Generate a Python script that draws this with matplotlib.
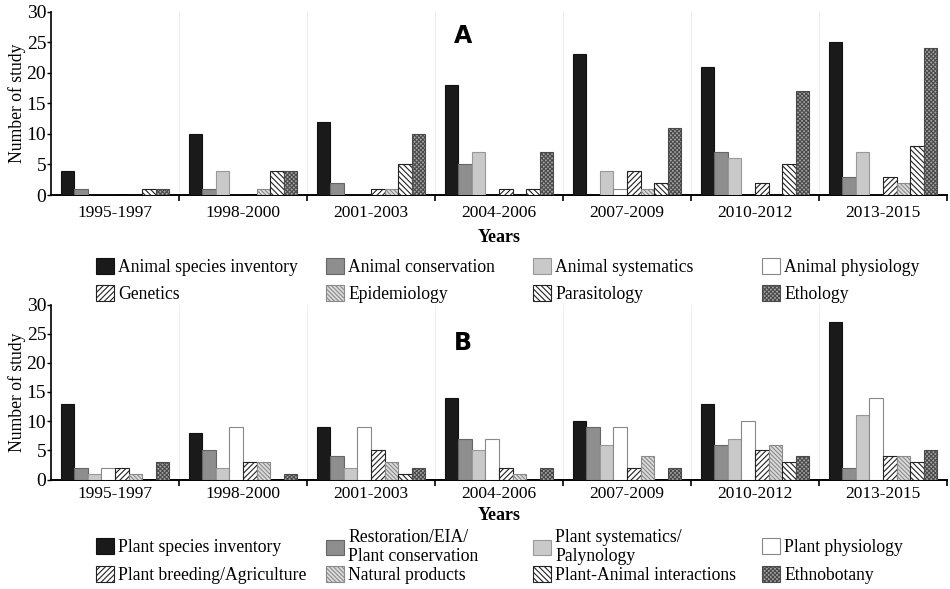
import numpy as np
import matplotlib
matplotlib.use("Agg")
import matplotlib.pyplot as plt

plt.rcParams['font.family'] = ['Liberation Serif', 'DejaVu Serif']
plt.rcParams['hatch.linewidth'] = 0.8

years = ["1995-1997", "1998-2000", "2001-2003", "2004-2006",
         "2007-2009", "2010-2012", "2013-2015"]

#====================== panel A (animal studies)
animal_labels = ["Animal species inventory", "Animal conservation", "Animal systematics",
                 "Animal physiology", "Genetics", "Epidemiology", "Parasitology", "Ethology"]
animal_species_inventory = [4, 10, 12, 18, 23, 21, 25]
animal_conservation = [1, 1, 2, 5, 0, 7, 3]
animal_systematics = [0, 4, 0, 7, 4, 6, 7]
animal_physiology = [0, 0, 0, 0, 1, 0, 0]
genetics = [0, 0, 1, 1, 4, 2, 3]
epidemiology = [0, 1, 1, 0, 1, 0, 2]
parasitology = [1, 4, 5, 1, 2, 5, 8]
ethology = [1, 4, 10, 7, 11, 17, 24]

#====================== panel B (plant studies)
plant_labels = ["Plant species inventory", "Restoration/EIA/\nPlant conservation",
                "Plant systematics/\nPalynology", "Plant physiology",
                "Plant breeding/Agriculture", "Natural products",
                "Plant-Animal interactions", "Ethnobotany"]
plant_species_inventory = [13, 8, 9, 14, 10, 13, 27]
plant_conservation = [2, 5, 4, 7, 9, 6, 2]
plant_systematics = [1, 2, 2, 5, 6, 7, 11]
plant_physiology = [2, 9, 9, 7, 9, 10, 14]
plant_breeding = [2, 3, 5, 2, 2, 5, 4]
natural_products = [1, 3, 3, 1, 4, 6, 4]
plant_animal = [0, 0, 1, 0, 0, 3, 3]
ethnobotany = [3, 1, 2, 2, 2, 4, 5]

animal_series = [animal_species_inventory, animal_conservation, animal_systematics,
                 animal_physiology, genetics, epidemiology, parasitology, ethology]
plant_series = [plant_species_inventory, plant_conservation, plant_systematics,
                plant_physiology, plant_breeding, natural_products, plant_animal, ethnobotany]

# face, edge, hatch for the 8 bar styles
styles = [("#1a1a1a", "#111111", None),
          ("#8e8e8e", "#666666", None),
          ("#c9c9c9", "#999999", None),
          ("#ffffff", "#888888", None),
          ("#ffffff", "#222222", "//////"),
          ("#dcdcdc", "#8a8a8a", "\\\\\\\\\\\\\\\\"),
          ("#ffffff", "#222222", "\\\\\\\\\\\\"),
          ("#a4a4a4", "#4a4a4a", "xxxxxxxx")]

W, H = 950, 589
fig = plt.figure(figsize=(9.5, 5.89), dpi=100)
ax1 = fig.add_axes([51/W, 1-195/H, 896/W, (195-11.5)/H])
ax2 = fig.add_axes([51/W, 1-479.5/H, 896/W, (479.5-304.5)/H])

x = np.arange(len(years))
bw = 0.1055

def draw_panel(ax, series, letter, letter_y, xpad, ylpad):
    bars = []
    for i, vals in enumerate(series):
        fc, ec, ht = styles[i]
        b = ax.bar(x + (i-3.5)*bw, vals, bw, color=fc, edgecolor=ec, hatch=ht, linewidth=0.8, zorder=3)
        bars.append(b)
    ax.set_xlim(-0.5, 6.5)
    ax.set_ylim(0, 30)
    ax.set_yticks(range(0, 31, 5))
    ax.set_xticks(x)
    ax.set_xticklabels(years, fontsize=12.5)
    ax.set_xticks(np.arange(0.5, 7, 1), minor=True)
    ax.tick_params(axis='x', which='major', length=0, pad=xpad)
    ax.tick_params(axis='x', which='minor', length=4, width=1.2, direction='out')
    ax.tick_params(axis='y', length=3, width=1.0, pad=0.5, labelsize=14)
    for sp in ['top', 'right']:
        ax.spines[sp].set_visible(False)
    ax.spines['left'].set_linewidth(1.2)
    ax.spines['bottom'].set_linewidth(1.4)
    for b in np.arange(0.5, 6.5, 1):
        ax.axvline(b, color='#eeeeee', linewidth=0.8, zorder=0)
    ax.set_ylabel("Number of study", fontsize=12.7, labelpad=0.5)
    ax.set_xlabel("Years", fontsize=13, fontweight='bold', labelpad=ylpad)
    ax.text(0.487 * W / 896 - 51/896, letter_y, letter, transform=ax.transAxes,
            fontsize=17, fontweight='bold', family='DejaVu Sans', ha='center', va='center')
    return bars

bars_a = draw_panel(ax1, animal_series, "A", (195-36)/(195-11.5), 7, 6)
bars_b = draw_panel(ax2, plant_series, "B", (479.5-343)/(479.5-304.5), 5, 3)

col_x = [96, 326, 533, 762]

def draw_legend(bars, labels, rows_y):
    for i, (b, lab) in enumerate(zip(bars, labels)):
        cx = col_x[i % 4]
        cy = rows_y[i // 4]
        fig.legend(handles=[b], labels=[lab], loc='center left',
                   bbox_to_anchor=(cx/W, 1-cy/H), frameon=False, fontsize=12.7,
                   handlelength=1.0, handleheight=1.0, handletextpad=0.25,
                   borderpad=0, borderaxespad=0)

draw_legend(bars_a, animal_labels, [267, 294])
draw_legend(bars_b, plant_labels, [547, 575])

fig.savefig("out.png", dpi=100)
